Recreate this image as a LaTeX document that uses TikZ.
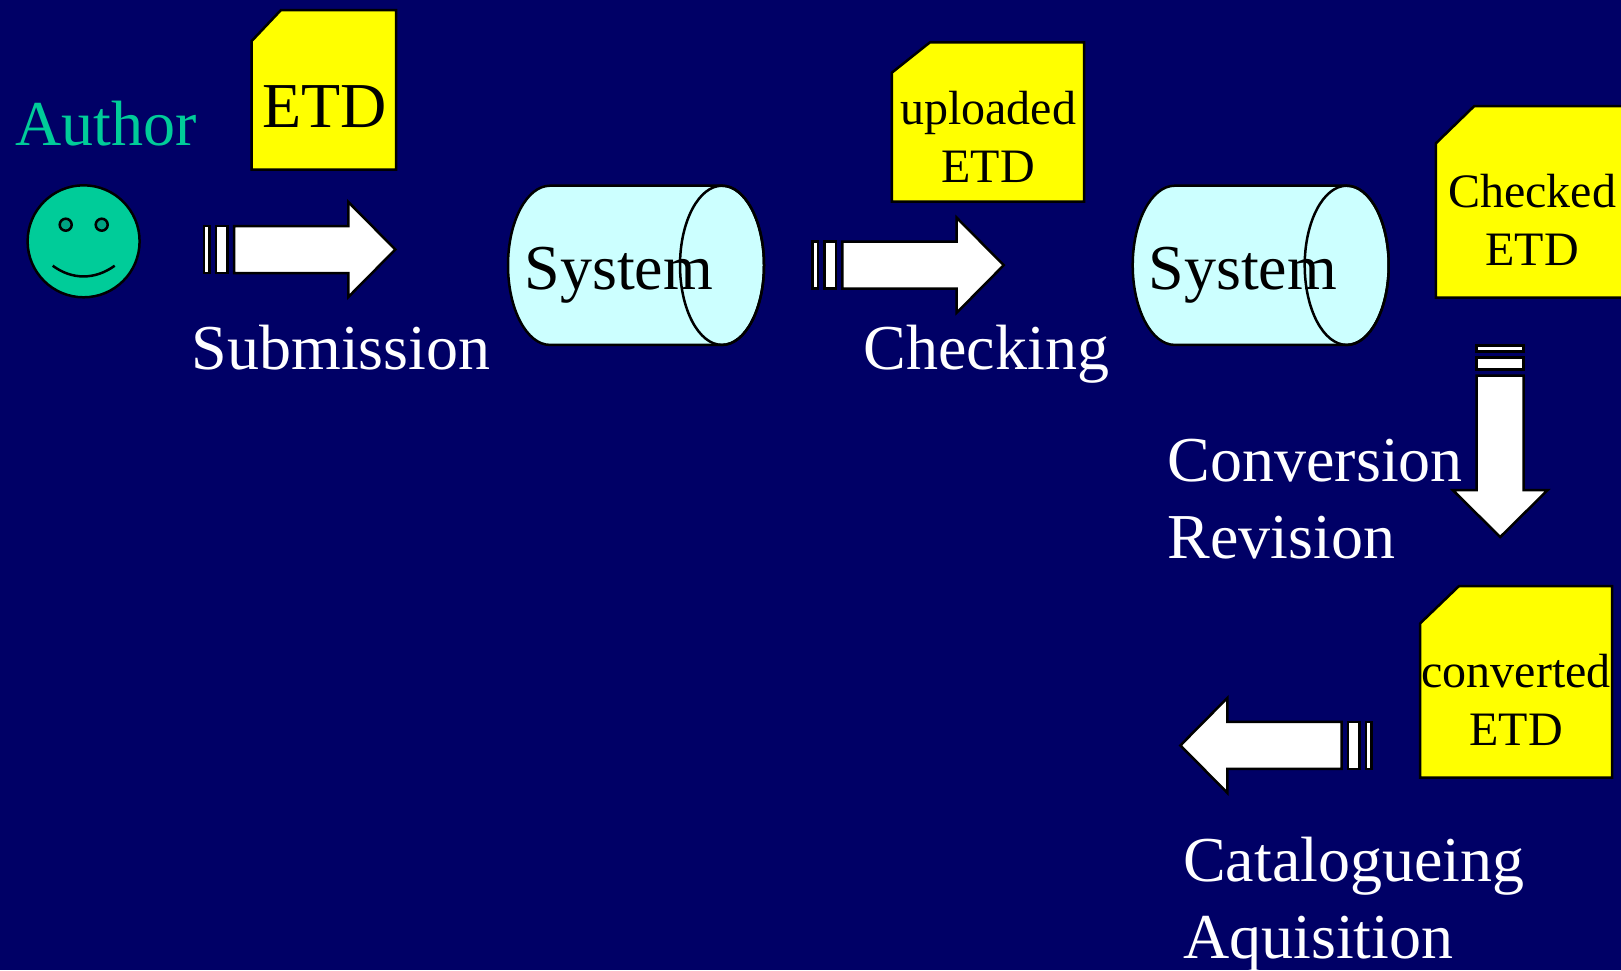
\documentclass[tikz,border=0pt]{standalone}
\usepackage{fontspec}
\setmainfont{Liberation Serif}
\definecolor{bgnavy}{HTML}{000066}
\definecolor{smile}{HTML}{00CC99}
\definecolor{smileeye}{HTML}{00A383}
\definecolor{cyl}{HTML}{CCFFFF}
\definecolor{docy}{HTML}{FFFF00}
\tikzset{
  big/.style={anchor=base west,inner sep=0pt,font=\fontsize{64}{76.8}\selectfont},
  mid/.style={anchor=base,inner sep=0pt,font=\fontsize{48}{58}\selectfont,text=black},
  outline/.style={draw=black,line width=2.5pt,line join=miter},
  fatarrow/.pic={
    \path[outline,fill=white] (0,-23.5) rectangle (5.7,23.5);
    \path[outline,fill=white] (12,-23.5) rectangle (23.7,23.5);
    \path[outline,fill=white] (30,-23.5) -- (144.3,-23.5) -- (144.3,-47.5) -- (191.3,0)
      -- (144.3,47.5) -- (144.3,23.5) -- (30,23.5) -- cycle;
  },
  drum/.pic={
    \path[outline,fill=cyl] (-1,-79.6) -- (171,-79.6)
      arc[start angle=90,end angle=-90,x radius=42pt,y radius=79.6pt]
      -- (-1,79.6)
      arc[start angle=-90,end angle=-270,x radius=42pt,y radius=79.6pt] -- cycle;
    \path[outline] (171,0) ellipse[x radius=42pt,y radius=79.6pt];
  }
}
\begin{document}
\begin{tikzpicture}[x=1pt,y=-1pt]
\useasboundingbox (0,0) rectangle (1621,970);
\clip (0,0) rectangle (1621,970);
\fill[bgnavy] (0,0) rectangle (1621,970);

% documents
\path[outline,fill=docy] (281,10) -- (396,10) -- (396,169.5) -- (251.7,169.5) -- (251.7,41) -- cycle;
\path[outline,fill=docy] (930,42.3) -- (1084,42.3) -- (1084,201.7) -- (891.8,201.7) -- (891.8,72.7) -- cycle;
\path[outline,fill=docy] (1474.3,106) -- (1630,106) -- (1630,297.5) -- (1435.9,297.5) -- (1435.9,143.3) -- cycle;
\path[outline,fill=docy] (1459,586) -- (1612.2,586) -- (1612.2,777.5) -- (1420.2,777.5) -- (1420.2,623.3) -- cycle;

% author face
\path[outline,fill=smile] (83.6,241.3) circle[radius=56pt];
\path[outline,fill=smileeye] (65.7,224.7) circle[radius=6pt];
\path[outline,fill=smileeye] (101.7,224.7) circle[radius=6pt];
\draw[line width=2.5pt] (52.7,265.7) .. controls (72,280) and (95,280) .. (114.7,265.7);

% drums
\pic at (551,265.3) {drum};
\pic at (1175.7,265.3) {drum};

% arrows
\pic at (204,249.5) {fatarrow};
\pic at (812.4,265.2) {fatarrow};
\pic[rotate=-90] at (1500.2,345.7) {fatarrow};
\pic[rotate=180] at (1371.7,745.4) {fatarrow};

% labels
\node[big,text=smile] (author) at (15.5,145.7) {Author};
\node[big,text=black] (etd1) at (262,127.3) {ETD};
\node[big,text=white] (submission) at (191.5,369.3) {Submission};
\node[big,text=black] (sys1) at (524.5,289.8) {System};
\node[big,text=black] (sys2) at (1148.5,289.8) {System};
\node[big,text=white] (checking) at (863.5,369.3) {Checking};
\node[big,text=white] (conv) at (1167.5,481.7) {Conversion};
\node[big,text=white] (rev) at (1167.5,558.4) {Revision};
\node[big,text=white] (cat) at (1183,881.5) {Catalogueing};
\node[big,text=white] (aqu) at (1183,958.2) {Aquisition};
\node[mid] (up1) at (988,124.3) {uploaded};
\node[mid] (up2) at (988,182.2) {ETD};
\node[mid] (ch1) at (1532,207.7) {Checked};
\node[mid] (ch2) at (1532,265) {ETD};
\node[mid] (co1) at (1516,687.7) {converted};
\node[mid] (co2) at (1516,745) {ETD};
\end{tikzpicture}
\end{document}
